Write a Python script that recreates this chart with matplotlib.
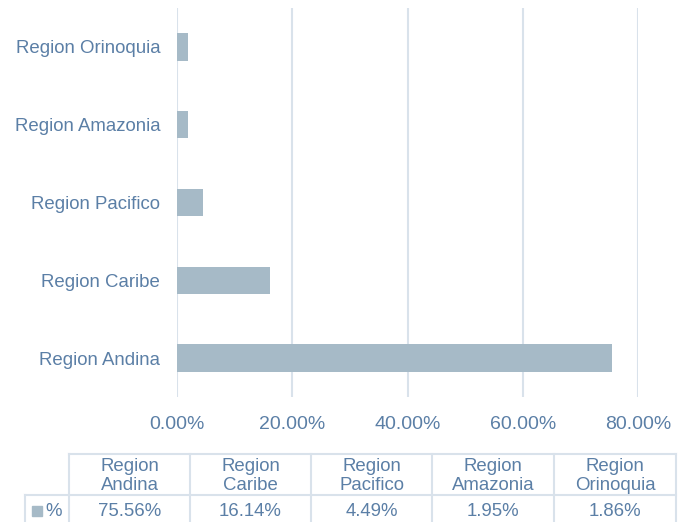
import matplotlib
matplotlib.use("Agg")
from matplotlib import pyplot as plt
from matplotlib.lines import Line2D
from matplotlib.patches import Rectangle
from matplotlib.ticker import FuncFormatter

regions = ["Region Andina", "Region Caribe", "Region Pacifico",
           "Region Amazonia", "Region Orinoquia"]
values = [75.56, 16.14, 4.49, 1.95, 1.86]
xticks = [0, 20, 40, 60, 80]
series_name = "%"

text_col = "#5b7fa6"
bar_col = "#a6bac7"
grid_col = "#d9e2eb"

W, H = 691, 522
plt.rcParams['font.family'] = ['Liberation Sans', 'DejaVu Sans']
fig = plt.figure(figsize=(W / 100, H / 100), dpi=100)


def fx(x):
    return x / W


def fy(y):
    return 1 - y / H


ax = fig.add_axes([fx(177), fy(397), fx(638) - fx(177), fy(8) - fy(397)])
ax.barh(range(len(values)), values, height=0.35, color=bar_col, zorder=2)
ax.set_xlim(0, 80)
ax.set_ylim(-0.5, 4.5)
ax.set_xticks(xticks)
ax.xaxis.set_major_formatter(FuncFormatter(lambda v, p: f"{v:.2f}%"))
ax.set_yticks(range(len(regions)))
ax.set_yticklabels(regions)
ax.grid(axis="x", color=grid_col, linewidth=1.5, zorder=0)
for s in ax.spines.values():
    s.set_visible(False)
ax.tick_params(axis="x", length=0, pad=14, labelsize=14, labelcolor=text_col)
ax.tick_params(axis="y", length=0, pad=12, labelsize=13.4, labelcolor=text_col)

# data table under the chart
col_edges = [69, 190, 311, 432, 554, 676]
key_left = 25
top, mid, bot = 454, 495, 522
lw = 1.5

def hline(x0, x1, y):
    fig.add_artist(Line2D([fx(x0), fx(x1)], [fy(y), fy(y)], color=grid_col,
                          linewidth=lw, transform=fig.transFigure))

def vline(x, y0, y1):
    fig.add_artist(Line2D([fx(x), fx(x)], [fy(y0), fy(y1)], color=grid_col,
                          linewidth=lw, transform=fig.transFigure))

hline(col_edges[0], col_edges[-1], top)
hline(key_left, col_edges[-1], mid)
vline(key_left, mid, bot)
for i, x in enumerate(col_edges):
    vline(x, top, bot)

for i, (name, v) in enumerate(zip(regions, values)):
    cx = (col_edges[i] + col_edges[i + 1]) / 2
    fig.text(fx(cx), fy((top + mid) / 2 + 1.5), name.replace(" ", "\n"),
             ha="center", va="center", fontsize=13.4, color=text_col,
             linespacing=1.2)
    fig.text(fx(cx), fy(512), f"{v:.2f}%", ha="center", va="center",
             fontsize=13.4, color=text_col)

fig.add_artist(Rectangle((fx(32), fy(516)), fx(10), 10 / H, color=bar_col,
                         transform=fig.transFigure))
fig.text(fx(45), fy(512), series_name, ha="left", va="center",
         fontsize=13.4, color=text_col)

fig.savefig("out.png", dpi=100)
